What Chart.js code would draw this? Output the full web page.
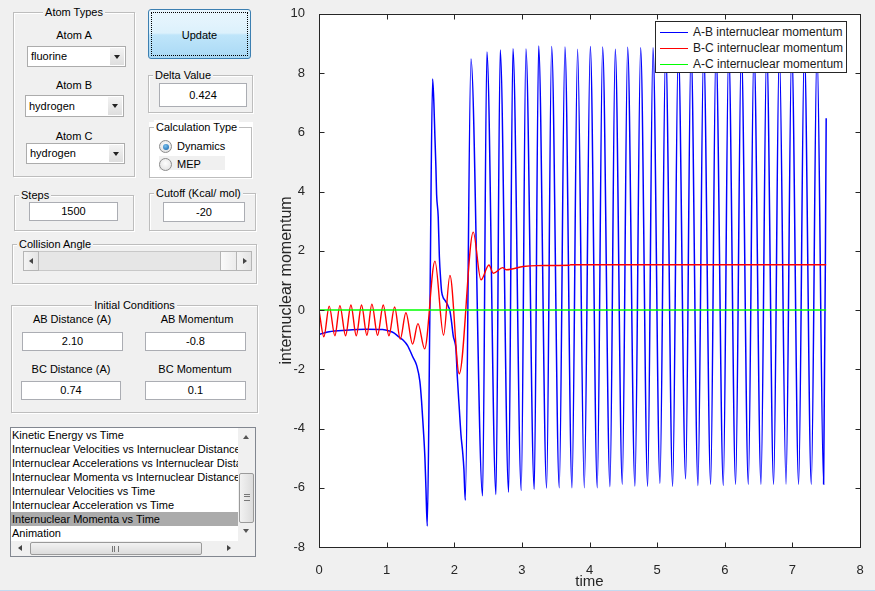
<!DOCTYPE html>
<html>
<head>
<meta charset="utf-8">
<title>Internuclear Momenta vs Time</title>
<script src="https://cdn.jsdelivr.net/npm/chart.js@4.4.1/dist/chart.umd.min.js"></script>
<style>
  html, body { margin: 0; padding: 0; }
  body {
    width: 875px; height: 591px; overflow: hidden; position: relative;
    background: #f0f0f0; color: #000;
    font-family: 'Liberation Sans', Arial, sans-serif; font-size: 11px;
  }
  .grp { position: absolute; box-sizing: border-box; border: 1px solid #bdbdbd; box-shadow: inset 1px 1px 0 #fff, 1px 1px 0 #fff; }
  .grp-title { position: absolute; top: -8px; line-height: 14px; background: #f0f0f0; padding: 0 2px; white-space: nowrap; }
  .grp-center { position: absolute; top: -8px; left: 0; right: 0; text-align: center; line-height: 14px; }
  .grp-center span { background: #f0f0f0; padding: 0 2px; }
  .lbl { position: absolute; width: 120px; line-height: 14px; text-align: center; white-space: nowrap; }
  .edit { position: absolute; box-sizing: border-box; background: #fff; border: 1px solid #abadb3; text-align: center; }
  .popup { position: absolute; box-sizing: border-box; background: #fff; border: 1px solid #acacac; padding-left: 3px; }
  .popup .arr { position: absolute; right: 1px; top: 1px; bottom: 1px; width: 14px; background: linear-gradient(#f3f3f3, #dedede); }
  .tri-down { position: absolute; left: 4px; top: 7px; width: 0; height: 0; border-left: 3.5px solid transparent; border-right: 3.5px solid transparent; border-top: 4px solid #222; }
  .btn {
    position: absolute; left: 148px; top: 9px; width: 103px; height: 50px; box-sizing: border-box;
    border: 1px solid #3c7fb1; border-radius: 3px; text-align: center; line-height: 50px;
    background: linear-gradient(#eaf6fd 0%, #dcf1fc 48%, #bfe5fa 52%, #a9d9f5 100%);
  }
  .btn::after { content: ''; position: absolute; left: 2px; top: 2px; right: 2px; bottom: 2px; border: 1px dotted #000; }
  .radio { position: absolute; width: 11px; height: 11px; border: 1px solid #8c8c8c; border-radius: 50%; background: radial-gradient(circle at 50% 40%, #fdfdfd, #dcdcdc); }
  .radio.on::after { content: ''; position: absolute; left: 2.5px; top: 2.5px; width: 6px; height: 6px; border-radius: 50%; background: radial-gradient(circle at 40% 35%, #7cc1ee, #0d5da6); }
  .sbtn { position: absolute; box-sizing: border-box; background: linear-gradient(90deg, #f4f4f4, #e4e4e4); border: 1px solid #b5b5b5; }
  .tri-left { position: absolute; width: 0; height: 0; border-top: 3.5px solid transparent; border-bottom: 3.5px solid transparent; border-right: 4px solid #444; }
  .tri-right { position: absolute; width: 0; height: 0; border-top: 3.5px solid transparent; border-bottom: 3.5px solid transparent; border-left: 4px solid #444; }
  .tri-up { position: absolute; width: 0; height: 0; border-left: 3.5px solid transparent; border-right: 3.5px solid transparent; border-bottom: 4px solid #555; }
  .listbox { position: absolute; left: 10px; top: 427px; width: 246px; height: 130px; box-sizing: border-box; background: #fff; border: 1px solid #828790; }
  .listbox ul { list-style: none; margin: 0; padding: 0; position: absolute; left: 0; top: 0; width: 227px; overflow: hidden; }
  .listbox li { height: 14px; line-height: 14px; padding-left: 1px; white-space: nowrap; overflow: hidden; }
  .listbox li.sel { background: #ababab; }
  #plot { position: absolute; left: 265px; top: 0; width: 610px; height: 591px; }
  #legend { position: absolute; left: 655px; top: 21px; width: 192px; height: 52px; box-sizing: border-box; background: #fff; border: 1px solid #262626; }
  #legend ul { list-style: none; margin: 0; padding: 2px 0 0 4px; }
</style>
</head>
<body>

<!-- Atom types -->
<div class="grp" style="left:13px; top:12px; width:122px; height:165px;">
  <div class="grp-center"><span>Atom Types</span></div>
</div>
<div class="lbl" style="left:14px; top:28px;">Atom A</div>
<div class="popup" style="left:27px; top:46px; width:99px; height:21px; line-height:19px;">fluorine<div class="arr"><div class="tri-down"></div></div></div>
<div class="lbl" style="left:14px; top:78px;">Atom B</div>
<div class="popup" style="left:25px; top:95px; width:99px; height:22px; line-height:20px;">hydrogen<div class="arr"><div class="tri-down"></div></div></div>
<div class="lbl" style="left:14px; top:129px;">Atom C</div>
<div class="popup" style="left:26px; top:143px; width:99px; height:21px; line-height:19px;">hydrogen<div class="arr"><div class="tri-down"></div></div></div>

<div class="btn">Update</div>

<div class="grp" style="left:148px; top:75px; width:105px; height:38px;">
  <div class="grp-title" style="left:4px;">Delta Value</div>
</div>
<div class="edit" style="left:159px; top:83px; width:88px; height:24px; line-height:22px;">0.424</div>

<!-- Calculation type (white panel) -->
<div style="position:absolute; left:149px; top:122px; width:104px; height:56px; background:#fff;"></div>
<div class="grp" style="left:149px; top:127px; width:103px; height:51px; background:#fff;">
  <div class="grp-title" style="left:4px; background:#fff;">Calculation Type</div>
</div>
<div class="radio on" style="left:159px; top:140px;"></div>
<div style="position:absolute; left:177px; top:139px; line-height:14px;">Dynamics</div>
<div style="position:absolute; left:159px; top:156px; width:66px; height:14px; background:#f0f0f0;"></div>
<div class="radio" style="left:159px; top:158px;"></div>
<div style="position:absolute; left:177px; top:157px; line-height:14px;">MEP</div>

<div class="grp" style="left:14px; top:195px; width:120px; height:36px;">
  <div class="grp-title" style="left:4px;">Steps</div>
</div>
<div class="edit" style="left:29px; top:202px; width:89px; height:19px; line-height:17px;">1500</div>

<div class="grp" style="left:149px; top:193px; width:107px; height:38px;">
  <div class="grp-title" style="left:4px;">Cutoff (Kcal/ mol)</div>
</div>
<div class="edit" style="left:163px; top:202px; width:82px; height:20px; line-height:18px;">-20</div>

<!-- Collision angle slider -->
<div class="grp" style="left:12px; top:244px; width:245px; height:40px;">
  <div class="grp-title" style="left:4px;">Collision Angle</div>
</div>
<div style="position:absolute; left:23px; top:251px; width:229px; height:20px; background:#e6e6e6; box-sizing:border-box; border:1px solid #c8c8c8;"></div>
<div class="sbtn" style="left:23px; top:251px; width:16px; height:20px;"><div class="tri-left" style="left:5px; top:6px;"></div></div>
<div class="sbtn" style="left:220px; top:251px; width:17px; height:20px; background:linear-gradient(90deg,#fafafa,#ececec);"></div>
<div class="sbtn" style="left:236px; top:251px; width:16px; height:20px;"><div class="tri-right" style="left:6px; top:6px;"></div></div>

<!-- Initial conditions -->
<div class="grp" style="left:11px; top:305px; width:247px; height:108px;">
  <div class="grp-center"><span>Initial Conditions</span></div>
</div>
<div class="lbl" style="left:12px; top:312px;">AB Distance (A)</div>
<div class="lbl" style="left:137px; top:312px;">AB Momentum</div>
<div class="edit" style="left:22px; top:332px; width:101px; height:19px; line-height:17px;">2.10</div>
<div class="edit" style="left:145px; top:332px; width:101px; height:19px; line-height:17px;">-0.8</div>
<div class="lbl" style="left:11px; top:362px;">BC Distance (A)</div>
<div class="lbl" style="left:135px; top:362px;">BC Momentum</div>
<div class="edit" style="left:21px; top:381px; width:100px; height:19px; line-height:17px;">0.74</div>
<div class="edit" style="left:145px; top:381px; width:101px; height:19px; line-height:17px;">0.1</div>

<!-- Plot list -->
<div class="listbox">
  <ul>
    <li>Kinetic Energy vs Time</li>
    <li>Internuclear Velocities vs Internuclear Distance</li>
    <li>Internuclear Accelerations vs Internuclear Distance</li>
    <li>Internuclear Momenta vs Internuclear Distance</li>
    <li>Internulear Velocities vs Time</li>
    <li>Internuclear Acceleration vs Time</li>
    <li class="sel">Internuclear Momenta vs Time</li>
    <li>Animation</li>
  </ul>
  <div style="position:absolute; left:227px; top:0; width:17px; height:113px; background:#f0f0f0;">
    <div class="tri-up" style="left:5px; top:7px;"></div>
    <div style="position:absolute; left:1px; top:45px; width:15px; height:50px; box-sizing:border-box; border:1px solid #9a9a9a; border-radius:2px; background:linear-gradient(90deg,#f2f2f2,#dcdcdc);">
      <div style="position:absolute; left:4px; top:20px; width:6px; height:5px; border-top:1px solid #777; border-bottom:1px solid #777;"></div>
      <div style="position:absolute; left:4px; top:22px; width:6px; border-top:1px solid #777;"></div>
    </div>
    <div class="tri-down" style="left:5px; top:101px; border-top-color:#555;"></div>
  </div>
  <div style="position:absolute; left:0; top:113px; width:227px; height:15px; background:#f0f0f0;">
    <div class="tri-left" style="left:7px; top:4px;"></div>
    <div style="position:absolute; left:19px; top:1px; width:172px; height:13px; box-sizing:border-box; border:1px solid #9a9a9a; border-radius:2px; background:linear-gradient(#f2f2f2,#dcdcdc);">
      <div style="position:absolute; left:81px; top:3px; width:5px; height:6px; border-left:1px solid #777; border-right:1px solid #777;"></div>
      <div style="position:absolute; left:83px; top:3px; height:6px; border-left:1px solid #777;"></div>
    </div>
    <div class="tri-right" style="left:216px; top:4px;"></div>
  </div>
  <div style="position:absolute; left:227px; top:113px; width:17px; height:15px; background:#f0f0f0;"></div>
</div>

<div style="position:absolute; left:0; top:590px; width:875px; height:1px; background:#c4daf0;"></div>

<div id="plot"><canvas id="momenta-chart"></canvas></div>
<div id="legend"><ul></ul></div>

<script>
// Values (time in the simulation's units)
const abTime = [
  0, 0.07, 0.15, 0.40, 0.70, 0.94, 1.04, 1.113, 1.187, 1.246, 1.31, 1.384, 1.443, 1.492, 1.517, 1.542, 1.566, 1.581, 1.601,
  1.64, 1.68, 1.699, 1.714, 1.729, 1.739, 1.763, 1.78, 1.80, 1.813, 1.838, 1.862, 1.887, 1.911, 1.936, 1.961, 1.985, 2.010,
  2.025, 2.044, 2.074, 2.099, 2.123, 2.143, 2.163,
  2.247, 2.419, 2.483, 2.617, 2.680, 2.804, 2.868, 2.991, 3.060, 3.183, 3.248, 3.366, 3.440, 3.553, 3.637, 3.741,
  3.824, 3.923, 4.012, 4.115, 4.194, 4.303, 4.381, 4.485, 4.564, 4.672, 4.756, 4.860, 4.939, 5.042, 5.126, 5.230,
  5.313, 5.422, 5.501, 5.604, 5.688, 5.792, 5.870, 5.979, 6.058, 6.161, 6.245, 6.349, 6.432, 6.536, 6.620, 6.723,
  6.807, 6.906, 6.990, 7.093, 7.177, 7.280, 7.364, 7.462, 7.500
];
const abMomentum = [
  -0.82, -0.78, -0.73, -0.68, -0.65, -0.66, -0.71, -0.78, -0.92, -1.02, -1.20, -1.57, -1.86, -2.42, -3.09, -3.98, -4.98, -5.98, -7.29,
  0.00, 7.80, 6.97, 5.85, 4.80, 3.91, 3.14, 1.80, 1.00, 0.63, 0.41, 0.33, 0.24, 0.13, -0.03, -0.42, -0.87, -1.09,
  -1.31, -2.20, -3.31, -4.20, -4.76, -5.37, -6.42,
  8.47, -6.27, 8.71, -6.23, 8.78, -6.15, 8.82, -6.09, 8.81, -6.05, 8.91, -6.01, 8.90, -6.00, 8.88, -6.00,
  8.80, -6.00, 8.90, -6.00, 8.88, -5.96, 8.80, -5.88, 8.87, -5.94, 8.85, -5.95, 8.85, -5.85, 8.86, -5.95,
  8.85, -5.70, 8.86, -5.92, 8.85, -5.88, 8.86, -5.92, 8.85, -5.88, 8.86, -5.88, 8.85, -5.88, 8.86, -5.88,
  8.85, -5.88, 8.86, -5.88, 8.85, -5.88, 8.86, -5.88, 6.47
];
const bcTime = [
  0, 0.072, 0.151, 0.235, 0.309, 0.393, 0.472, 0.551, 0.629, 0.708, 0.782, 0.866, 0.950, 1.034, 1.118, 1.202,
  1.285, 1.384, 1.463, 1.562, 1.714, 1.842, 1.936, 2.074, 2.281, 2.395, 2.513, 2.577, 2.715, 2.774, 3.021, 3.218,
  3.700, 3.720, 7.500
];
const bcMomentum = [
  0.00, -0.90, 0.13, -0.87, 0.15, -0.87, 0.17, -0.87, 0.17, -0.85, 0.20, -0.85, 0.17, -0.87, 0.10, -0.98,
  -0.09, -1.15, -0.46, -1.31, 1.65, -0.85, 1.17, -2.15, 2.63, 1.02, 1.52, 1.24, 1.43, 1.36, 1.47, 1.50,
  1.51, 1.53, 1.53
];
const acTime = [0, 7.5];
const acMomentum = [0, 0];

const timeTicks = [0, 1, 2, 3, 4, 5, 6, 7, 8];
const momentumTicks = [-8, -6, -4, -2, 0, 2, 4, 6, 8, 10];
const seriesLabels = ['A-B internuclear momentum', 'B-C internuclear momentum', 'A-C internuclear momentum'];

const toPoints = (xs, ys) => xs.map((x, i) => ({ x, y: ys[i] }));

Chart.defaults.font.family = "'Liberation Sans', Arial, sans-serif";

const axisColor = '#262626';

// MATLAB style box: white plot area, ticks pointing inwards on all four sides
const matlabBox = {
  id: 'matlabBox',
  beforeDraw(c) {
    const { ctx, chartArea: a } = c;
    ctx.save();
    ctx.fillStyle = '#ffffff';
    ctx.fillRect(a.left, a.top, a.width, a.height);
    ctx.restore();
  },
  afterDatasetsDraw(c) {
    const { ctx, chartArea: a, scales } = c;
    const L = Math.round(a.left) + 0.5, R = Math.round(a.right) + 0.5;
    const T = Math.round(a.top) + 0.5, B = Math.round(a.bottom) + 0.5;
    ctx.save();
    ctx.strokeStyle = axisColor;
    ctx.lineWidth = 1;
    ctx.beginPath();
    scales.x.ticks.forEach((t) => {
      const px = Math.round(scales.x.getPixelForValue(t.value)) + 0.5;
      ctx.moveTo(px, B); ctx.lineTo(px, B - 5);
      ctx.moveTo(px, T); ctx.lineTo(px, T + 5);
    });
    scales.y.ticks.forEach((t) => {
      const py = Math.round(scales.y.getPixelForValue(t.value)) + 0.5;
      ctx.moveTo(L, py); ctx.lineTo(L + 5, py);
      ctx.moveTo(R, py); ctx.lineTo(R - 5, py);
    });
    ctx.stroke();
    ctx.strokeRect(L, T, R - L, B - T);
    ctx.restore();
  },
};

// Legend drawn as HTML on top of the plot
const htmlLegend = {
  id: 'htmlLegend',
  afterUpdate(c, args, options) {
    const ul = document.getElementById(options.containerID).querySelector('ul');
    if (!ul) return;
    while (ul.firstChild) ul.firstChild.remove();
    c.data.datasets.forEach((ds) => {
      const li = document.createElement('li');
      li.style.display = 'flex';
      li.style.alignItems = 'center';
      li.style.height = '16.2px';
      const box = document.createElement('span');
      box.style.display = 'block';
      box.style.width = '28px';
      box.style.borderTop = '1px solid ' + ds.borderColor;
      box.style.marginRight = '5px';
      const label = document.createElement('span');
      label.style.fontSize = '12px';
      label.style.color = '#1a1a1a';
      label.style.whiteSpace = 'nowrap';
      label.appendChild(document.createTextNode(ds.label));
      li.appendChild(box);
      li.appendChild(label);
      ul.appendChild(li);
    });
  },
};

const ctx = document.getElementById('momenta-chart');

new Chart(ctx, {
  type: 'line',
  data: {
    datasets: [
      {
        label: seriesLabels[0],
        data: toPoints(abTime, abMomentum),
        borderColor: '#0000ff',
        borderWidth: 1.5,
        order: 3,
      },
      {
        label: seriesLabels[1],
        data: toPoints(bcTime, bcMomentum),
        borderColor: '#ff0000',
        borderWidth: 1.4,
        order: 2,
      },
      {
        label: seriesLabels[2],
        data: toPoints(acTime, acMomentum),
        borderColor: '#00ff00',
        borderWidth: 1.4,
        order: 1,
      },
    ],
  },
  options: {
    responsive: true,
    maintainAspectRatio: false,
    animation: false,
    layout: {
      padding: { top: 7, right: 15, bottom: 0, left: 0 },
    },
    elements: {
      point: { radius: 0, hoverRadius: 0 },
      line: { cubicInterpolationMode: 'monotone', fill: false },
    },
    plugins: {
      legend: { display: false },
      tooltip: { enabled: false },
      htmlLegend: { containerID: 'legend' },
    },
    scales: {
      x: {
        type: 'linear',
        min: 0,
        max: 8,
        grid: { display: false },
        border: { display: false },
        afterBuildTicks: (s) => { s.ticks = timeTicks.map((v) => ({ value: v })); },
        afterFit: (s) => { s.height = 44; },
        ticks: { color: axisColor, font: { size: 13 }, padding: 8, maxRotation: 0 },
        title: { display: true, text: 'time', color: axisColor, font: { size: 15 }, padding: { top: 0, bottom: 0 } },
      },
      y: {
        type: 'linear',
        min: -8,
        max: 10,
        grid: { display: false },
        border: { display: false },
        afterBuildTicks: (s) => { s.ticks = momentumTicks.map((v) => ({ value: v })); },
        afterFit: (s) => { s.width = 54; },
        ticks: { color: axisColor, font: { size: 13 }, padding: 6 },
        title: { display: true, text: 'internuclear momentum', color: axisColor, font: { size: 16 }, padding: { top: 12, bottom: 0 } },
      },
    },
  },
  plugins: [matlabBox, htmlLegend],
});
</script>
</body>
</html>
